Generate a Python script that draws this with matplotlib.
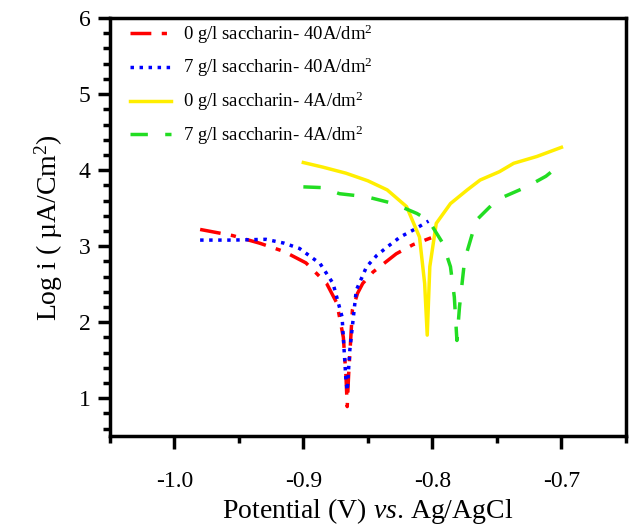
import matplotlib
matplotlib.use("Agg")
import matplotlib.pyplot as plt
from matplotlib.ticker import MultipleLocator

plt.rcParams['font.family'] = ['Liberation Serif', 'DejaVu Serif']
plt.rcParams['mathtext.fontset'] = 'custom'
plt.rcParams['mathtext.rm'] = 'Liberation Serif'
plt.rcParams['mathtext.it'] = 'Liberation Serif:italic'

# 0 g/l saccharin - 40 A/dm2
red_x = [-0.980, -0.955, -0.934, -0.915, -0.898, -0.882, -0.874, -0.869, -0.867, -0.866,
         -0.865, -0.862, -0.858, -0.854, -0.846, -0.837, -0.828, -0.815, -0.801]
red_y = [3.22, 3.14, 3.04, 2.93, 2.78, 2.51, 2.25, 1.80, 1.30, 0.89,
         1.28, 2.16, 2.38, 2.51, 2.66, 2.78, 2.90, 3.02, 3.11]

# 7 g/l saccharin - 40 A/dm2
blue_x = [-0.980, -0.955, -0.929, -0.915, -0.903, -0.887, -0.877, -0.870, -0.867, -0.866,
          -0.864, -0.859, -0.851, -0.843, -0.835, -0.825, -0.814, -0.803]
blue_y = [3.08, 3.08, 3.09, 3.04, 2.97, 2.77, 2.51, 2.07, 1.24, 1.10,
          1.63, 2.42, 2.73, 2.88, 2.99, 3.12, 3.22, 3.33]

# 0 g/l saccharin - 4 A/dm2
yellow_x = [-0.900, -0.885, -0.867, -0.850, -0.835, -0.820, -0.810, -0.806, -0.804,
            -0.802, -0.797, -0.786, -0.773, -0.763, -0.748, -0.737, -0.719, -0.700]
yellow_y = [4.10, 4.04, 3.96, 3.86, 3.74, 3.52, 3.12, 2.51, 1.83,
            2.73, 3.30, 3.56, 3.74, 3.87, 3.98, 4.09, 4.18, 4.30]

# 7 g/l saccharin - 4 A/dm2
green_x = [-0.900, -0.885, -0.872, -0.851, -0.830, -0.812, -0.803, -0.792, -0.786, -0.783,
           -0.781, -0.779, -0.775, -0.766, -0.750, -0.727, -0.712, -0.701]
green_y = [3.78, 3.77, 3.69, 3.65, 3.56, 3.43, 3.34, 3.04, 2.73, 2.33,
           1.76, 2.20, 2.82, 3.34, 3.61, 3.78, 3.92, 4.07]

labels = [r"0 g/l saccharin- 40A/dm$^{2}$",
          r"7 g/l saccharin- 40A/dm$^{2}$",
          r"0 g/l saccharin- 4A/dm$^{2}$",
          r"7 g/l saccharin- 4A/dm$^{2}$"]

fig = plt.figure(figsize=(6.31, 5.32), dpi=100)
ax = fig.add_axes([0.174, 0.180, 0.818, 0.786])

ax.plot(red_x, red_y, color="red", lw=2.5, linestyle=(0, (6, 3, 1.5, 3)), label=labels[0])
ax.plot(blue_x, blue_y, color="blue", lw=2.5, linestyle=(0, (1, 1.6)), label=labels[1])
ax.plot(yellow_x, yellow_y, color="#ffee00", lw=2.5, label=labels[2])
ax.plot(green_x, green_y, color="#22dd22", lw=2.5, linestyle=(0, (5, 5)), label=labels[3])

ax.set_xlim(-1.05, -0.65)
ax.set_ylim(0.5, 6)
ax.xaxis.set_minor_locator(MultipleLocator(0.05))
ax.yaxis.set_minor_locator(MultipleLocator(0.2))
ax.set_xticks([-1.0, -0.9, -0.8, -0.7])
ax.set_xticklabels(["-1.0", "-0.9", "-0.8", "-0.7"])
ax.set_yticks([1, 2, 3, 4, 5, 6])

for s in ax.spines.values():
    s.set_linewidth(2.5)
ax.tick_params(which="major", direction="out", length=9, width=2.5, labelsize=17)
ax.tick_params(which="minor", direction="out", length=5, width=2.5)
ax.tick_params(axis="x", which="both", top=False, pad=16)
ax.tick_params(axis="y", which="both", right=False, pad=5)

ax.set_xlabel(r"Potential (V) $\it{vs}$. Ag/AgCl", fontsize=20, labelpad=3)
ax.set_ylabel(r"Log i ( µA/Cm$^{2}$)", fontsize=20, labelpad=10)

ax.legend(loc="upper left", frameon=False, fontsize=13.5, handlelength=2.2,
          handletextpad=0.6, labelspacing=0.55, borderaxespad=0.0,
          bbox_to_anchor=(0.025, 1.008))

fig.savefig("out.png", dpi=100)
